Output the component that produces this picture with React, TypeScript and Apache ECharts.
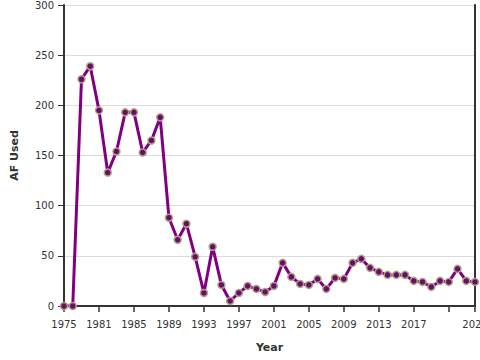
import React, { useEffect, useRef } from "react";
import * as echarts from "echarts";

const years: string[] = [
  "1975", "1976", "1978", "1980", "1981", "1982", "1983", "1984", "1985", "1986",
  "1987", "1988", "1989", "1990", "1991", "1992", "1993", "1994", "1995", "1996",
  "1997", "1998", "1999", "2000", "2001", "2002", "2003", "2004", "2005", "2006",
  "2007", "2008", "2009", "2010", "2011", "2012", "2013", "2014", "2015", "2016",
  "2017", "2018", "2019", "2020", "2021", "2022", "2023", "2024",
];

const afUsed: number[] = [
  0, 0, 226, 239, 195, 133, 154, 193, 193, 153, 165, 188, 88, 66, 82, 49, 13, 59, 21, 5,
  13, 20, 17, 14, 20, 43, 29, 22, 21, 27, 17, 28, 27, 43, 47, 38, 34, 31, 31, 31,
  25, 24, 19, 25, 24, 37, 25, 24,
];

const yTicks: number[] = [0, 50, 100, 150, 200, 250, 300];

export default function App() {
  const ref = useRef<HTMLDivElement>(null);
  useEffect(() => {
    if (!ref.current) return;
    const chart = echarts.init(ref.current, undefined, { renderer: "svg" });
    const font = "DejaVu Sans";
    const last = years.length - 1;
    chart.setOption({
      animation: false,
      grid: { left: 64, right: 5, top: 5, bottom: 54, containLabel: false, outerBoundsMode: "none" },
      xAxis: {
        type: "category",
        data: years,
        boundaryGap: false,
        name: "Year",
        nameLocation: "middle",
        nameGap: 36,
        nameTextStyle: { fontFamily: font, fontSize: 11, fontWeight: "bold", color: "#333" },
        axisLine: { lineStyle: { color: "#333", width: 2 } },
        axisTick: {
          length: 6,
          lineStyle: { color: "#333", width: 1.5 },
          interval: (i: number) => i % 4 === 0 || i === last,
        },
        axisLabel: {
          fontFamily: font,
          fontSize: 10,
          color: "#333",
          margin: 13,
          interval: (i: number) => (i % 4 === 0 && i !== 44) || i === last,
        },
        splitLine: { show: false },
      },
      yAxis: [
        {
          type: "value",
          min: yTicks[0],
          max: yTicks[yTicks.length - 1],
          interval: 50,
          name: "AF Used",
          nameLocation: "middle",
          nameGap: 44,
          nameTextStyle: { fontFamily: font, fontSize: 11, fontWeight: "bold", color: "#333" },
          axisLine: { show: true, lineStyle: { color: "#333", width: 2 } },
          axisTick: { show: true, length: 6, lineStyle: { color: "#333", width: 1 } },
          axisLabel: { fontFamily: font, fontSize: 10, color: "#333", margin: 10 },
          splitLine: { lineStyle: { color: "#dcdcdc", width: 1 } },
        },
        {
          type: "value",
          position: "right",
          min: 0,
          max: 300,
          interval: 50,
          axisLine: { show: true, lineStyle: { color: "#333", width: 2 } },
          axisTick: { show: false },
          axisLabel: { show: false },
          splitLine: { show: false },
        },
      ],
      series: [
        {
          type: "line",
          data: afUsed,
          yAxisIndex: 0,
          symbol: "circle",
          symbolSize: 7,
          showAllSymbol: true,
          lineStyle: { color: "#800080", width: 3 },
          itemStyle: { color: "#6a0c6a", borderColor: "#b0a283", borderWidth: 1.5 },
        },
      ],
    });
    return () => chart.dispose();
  }, []);
  return <div ref={ref} style={{ width: 480, height: 360, position: "absolute", left: 0, top: 0 }} />;
}
